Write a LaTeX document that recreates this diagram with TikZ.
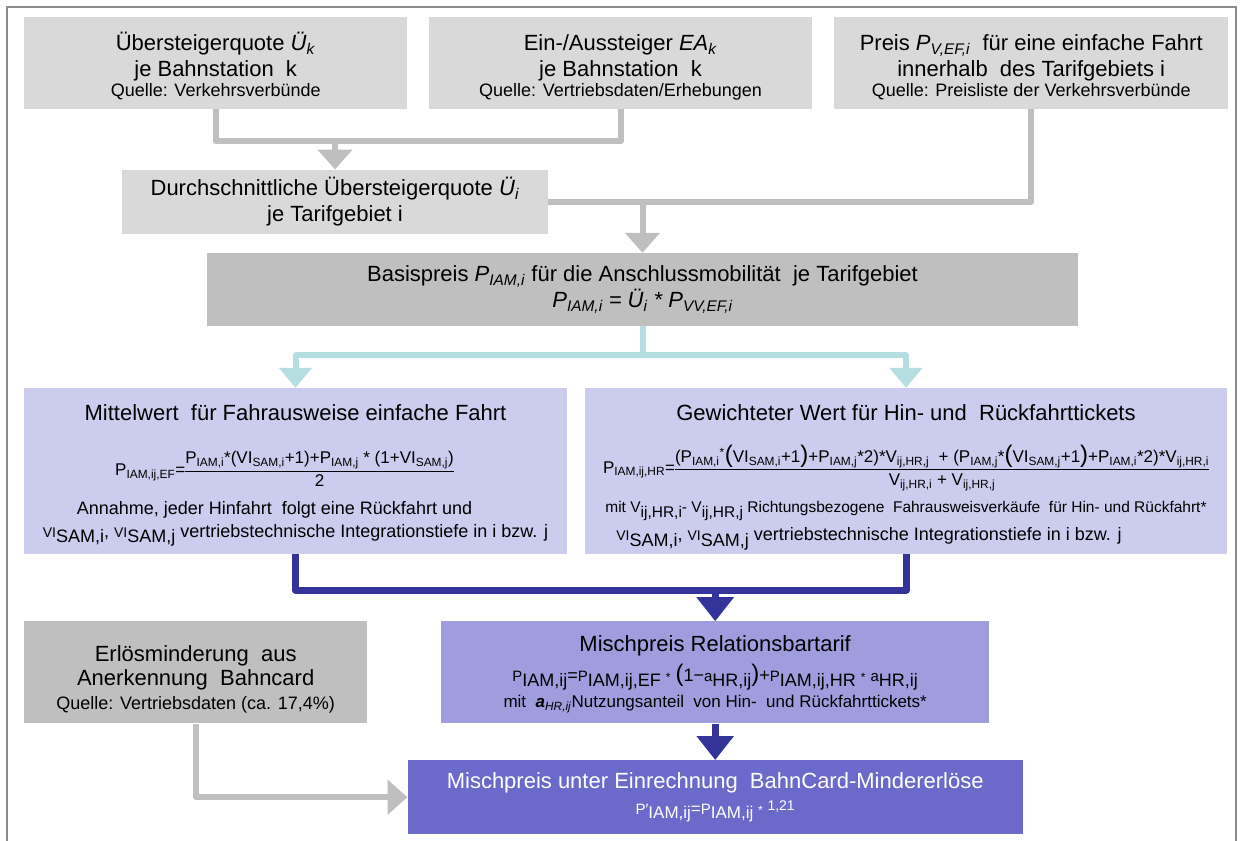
\documentclass[tikz,border=0pt]{standalone}
\usepackage{fontspec}
\setmainfont{Liberation Sans}
\usepackage{tikz}
\usetikzlibrary{arrows.meta, positioning, calc}

\definecolor{srcgray}{HTML}{D9D9D9}
\definecolor{calcgray}{HTML}{BFBFBF}
\definecolor{linegray}{HTML}{BFBFBF}
\definecolor{linkteal}{HTML}{B4DEE0}
\definecolor{varlav}{HTML}{CCCCEE}
\definecolor{mixlav}{HTML}{9F9DDD}
\definecolor{finlav}{HTML}{6B6ACB}
\definecolor{darkline}{HTML}{333399}
\definecolor{framegray}{HTML}{8C8C8C}

\newcommand{\fbig}{\fontsize{22}{26}\selectfont}
\newcommand{\fmid}{\fontsize{18}{22}\selectfont}
\newcommand{\fform}{\fontsize{17}{20}\selectfont}
\newcommand{\fsml}{\fontsize{15.5}{18}\selectfont}
\newcommand{\ix}[2]{#1\textsubscript{#2}}
\newcommand{\itx}[2]{\textit{#1}\textsubscript{\textit{#2}}}
\newcommand{\lw}[2]{#1\raisebox{-0.3em}{#2}}
\newcommand{\pl}[2]{{\fontsize{15}{18}\selectfont #1}\raisebox{-0.25em}{#2}}
\newcommand{\vsam}[1]{{\fontsize{14}{16}\selectfont VI}\raisebox{-0.3em}{SAM,#1}}
\newcommand{\bigpar}[1]{{\fontsize{24}{24}\selectfont #1}}
\newcommand{\smstar}{{\fontsize{12}{12}\selectfont *}}
\newcommand{\frc}[2]{{\renewcommand{\arraystretch}{1.1}\begin{tabular}[c]{@{}c@{}}#1\\\hline #2\end{tabular}}}
\newcommand{\topgap}[1]{\rule{0pt}{#1}}
\setlength{\arrayrulewidth}{1pt}

\begin{document}
\begin{tikzpicture}[
  x=1pt, y=-1pt,
  font=\fbig,
  srcbox/.style     = {fill=srcgray, inner sep=0pt, align=center},
  calcbox/.style    = {fill=calcgray, inner sep=0pt, align=center},
  varbox/.style     = {fill=varlav, inner sep=0pt, align=center},
  mixbox/.style     = {fill=mixlav, inner sep=0pt, align=center},
  finbox/.style     = {fill=finlav, inner sep=0pt, align=center, text=white},
  gline/.style      = {draw=linegray, line width=6pt, line join=round},
  garr/.style       = {gline, -{Triangle[width=34pt, length=20pt]}},
  tline/.style      = {draw=linkteal, line width=6pt, line join=round},
  tarr/.style       = {tline, -{Triangle[width=32pt, length=20pt]}},
  bline/.style      = {draw=darkline, line width=7pt, line join=round},
  barr/.style       = {bline, -{Triangle[width=36pt, length=24pt]}},
  framelines/.style = {draw=framegray, line width=1.5pt},
]
\useasboundingbox (0,0) rectangle (1243,841);
\draw[framelines] (7,850) -- (7,7) -- (1236,7) -- (1236,850);

%% Sources
\node[srcbox, minimum width=383pt, minimum height=92pt] (quote) at (215.7, 63.2)
     {\topgap{24pt}Übersteigerquote \itx{Ü}{k}\\
      je Bahnstation\ \ k\\[-6pt]
      {\fmid Quelle: Verkehrsverbünde}};
\node[srcbox, minimum width=383pt, minimum height=92pt] (board) at (620.5, 63.2)
     {\topgap{24pt}Ein-/Aussteiger \itx{EA}{k}\\
      je Bahnstation\ \ k\\[-6pt]
      {\fmid Quelle: Vertriebsdaten/Erhebungen}};
\node[srcbox, minimum width=394pt, minimum height=92pt] (price) at (1031.2, 63.2)
     {\topgap{24pt}Preis \itx{P}{V,EF,i}\ \ für eine einfache Fahrt\\
      innerhalb\ \ des Tarifgebiets i\\[-6pt]
      {\fmid Quelle: Preisliste der Verkehrsverbünde}};

%% Average rate
\node[srcbox, minimum width=426pt, minimum height=64pt] (avg) at (335, 201.7)
     {Durchschnittliche Übersteigerquote \itx{Ü}{i}\\
      je Tarifgebiet i};
\draw[gline] (quote.south) -- ++(0,32) coordinate (jsrc) -| (board.south);
\draw[garr] (jsrc -| avg.north) -- (avg.north);

%% Base price
\node[calcbox, minimum width=871pt, minimum height=73pt] (base) at (642.5, 289.5)
     {Basispreis \itx{P}{IAM,i} für die Anschlussmobilität\ \ je Tarifgebiet\\
      \textit{\ix{P}{IAM,i} = \ix{Ü}{i} * \ix{P}{VV,EF,i}}};
\draw[gline] (avg.east) -| (price.south);
\draw[garr] (avg.east -| base.north) -- (base.north);

%% Single and return tickets
\node[varbox, minimum width=543pt, minimum height=166pt] (single) at (295.5, 471)
     {\topgap{25pt}Mittelwert\ \ für Fahrausweise einfache Fahrt\\[27pt]
      {\fform \ix{P}{IAM,ij,EF}=\frc{\ix{P}{IAM,i}*(\ix{VI}{SAM,i}+1)+\ix{P}{IAM,j} * (1+\ix{VI}{SAM,j})}{2}}\hspace{22pt}\mbox{}\\[7pt]
      {\fmid Annahme, jeder Hinfahrt\ \ folgt eine Rückfahrt und}\hspace{42pt}\mbox{}\\[-3pt]
      {\fmid \vsam{i}, \vsam{j} vertriebstechnische Integrationstiefe in i bzw. j}};
\node[varbox, minimum width=642pt, minimum height=166pt] (return) at (906, 471)
     {\topgap{28pt}Gewichteter Wert für Hin- und\ \ Rückfahrttickets\\[24pt]
      {\fform \ix{P}{IAM,ij,HR}=\frc{(\ix{P}{IAM,i}\textsuperscript{*}\bigpar{(}\ix{VI}{SAM,i}+1\bigpar{)}+\ix{P}{IAM,j}*2)*\ix{V}{ij,HR,j}\ \ + (\ix{P}{IAM,j}*\bigpar{(}\ix{VI}{SAM,j}+1\bigpar{)}+\ix{P}{IAM,i}*2)*\ix{V}{ij,HR,i}}{\ix{V}{ij,HR,i} + \ix{V}{ij,HR,j}}}\\[8pt]
      {\fsml mit \lw{V}{ij,HR,i}- \lw{V}{ij,HR,j} Richtungsbezogene\ \ Fahrausweisverkäufe\ \ für Hin- und Rückfahrt*}\\[2pt]
      {\fmid \vsam{i}, \vsam{j} vertriebstechnische Integrationstiefe in i bzw. j}\hspace*{74pt}};
\draw[tline] (base.south) -- ++(0,29) coordinate (jbase);
\draw[tarr] (jbase) -| (single.north);
\draw[tarr] (jbase) -| (return.north);

%% Mixed price
\node[mixbox, minimum width=548pt, minimum height=102pt] (mix) at (715.2, 672.4)
     {\topgap{20pt}Mischpreis Relationsbartarif\\[4pt]
      {\fontsize{18}{22}\selectfont \pl{P}{IAM,ij}=\pl{P}{IAM,ij,EF} \smstar{} \bigpar{(}1−\pl{a}{HR,ij}\bigpar{)}+\pl{P}{IAM,ij,HR} \smstar{} \pl{a}{HR,ij}}\\
      {\fontsize{17}{20}\selectfont mit\ \ \textbf{\textit{a}}\textsubscript{\textit{HR,ij}}Nutzungsanteil\ \ von Hin-\ \ und Rückfahrttickets*}};
\draw[bline] (single.south) -- ++(0,36) coordinate (jvar) -| (return.south);
\draw[barr] (jvar -| mix.north) -- (mix.north);

%% BahnCard
\node[calcbox, minimum width=343pt, minimum height=102pt] (bcard) at (195.7, 672.4)
     {\topgap{30pt}Erlösminderung\ \ aus\\[-2pt]
      Anerkennung\ \ Bahncard\\[-2pt]
      {\fmid Quelle: Vertriebsdaten (ca. 17,4\%)}};

%% Final price
\node[finbox, minimum width=615pt, minimum height=74pt] (final) at (715.2, 797.2)
     {Mischpreis unter Einrechnung\ \ BahnCard-Mindererlöse\\
      {\fontsize{17}{20}\selectfont \pl{P′}{IAM,ij}=\pl{P}{IAM,ij} \smstar{} \raisebox{4pt}{\fontsize{14}{14}\selectfont 1,21}}};
\draw[barr] (mix.south) -- (final.north);
\draw[garr] (bcard.south) |- (final.west);

\end{tikzpicture}
\end{document}
